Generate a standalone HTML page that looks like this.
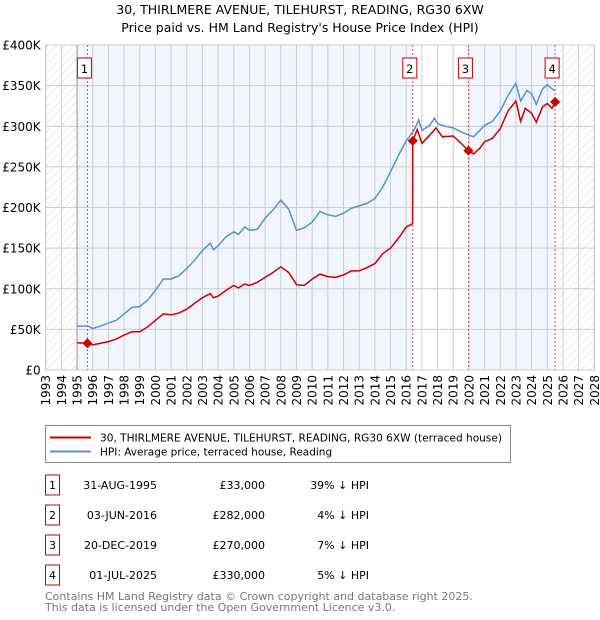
<!DOCTYPE html>
<html><head><meta charset="utf-8"><style>
body{margin:0;background:#fff;font-family:"DejaVu Sans","Liberation Sans",sans-serif;}
#wrap{position:relative;width:600px;height:620px;overflow:hidden;}
svg text{font-family:"DejaVu Sans","Liberation Sans",sans-serif;}
</style></head><body><div id="wrap">
<svg id="chart" width="600" height="620" style="position:absolute;left:0;top:0"></svg>
</div>
<script>
const years=[1993,1994,1995,1996,1997,1998,1999,2000,2001,2002,2003,2004,2005,2006,2007,2008,2009,2010,2011,2012,2013,2014,2015,2016,2017,2018,2019,2020,2021,2022,2023,2024,2025,2026,2027,2028];
const yTicks=[0,50,100,150,200,250,300,350,400];
const yTickLabels=["£0","£50K","£100K","£150K","£200K","£250K","£300K","£350K","£400K"];
const hpiT=[1995,1995.7,1996,1996.5,1997,1997.5,1998,1998.5,1999,1999.5,2000,2000.5,2001,2001.5,2002,2002.5,2003,2003.5,2003.7,2004,2004.5,2005,2005.3,2005.7,2006,2006.5,2007,2007.5,2008,2008.5,2009,2009.5,2010,2010.5,2011,2011.5,2012,2012.5,2013,2013.5,2014,2014.5,2015,2015.5,2016,2016.5,2016.8,2017,2017.5,2017.8,2018,2018.5,2019,2019.5,2020,2020.3,2020.7,2021,2021.5,2022,2022.5,2023,2023.3,2023.7,2024,2024.3,2024.7,2025,2025.3,2025.5];
const hpiV=[54,54,51,54,58,61,69,77,78,86,98,112,112,116,125,135,147,156,148,153,164,170,167,176,172,173,187,197,209,198,172,175,182,195,191,189,193,199,202,205,211,225,244,264,282,295,308,295,301,310,303,300,298,293,289,287,295,301,306,319,338,353,331,344,340,327,346,351,346,344];
const redT=[1995,1995.66,1996,1997,1997.5,1998,1998.5,1999,1999.5,2000,2000.5,2001,2001.5,2002,2002.5,2003,2003.5,2003.7,2004,2004.5,2005,2005.3,2005.7,2006,2006.5,2007,2007.5,2008,2008.5,2009,2009.5,2010,2010.5,2011,2011.5,2012,2012.5,2013,2013.5,2014,2014.5,2015,2015.5,2016,2016.41,2016.42,2016.7,2017,2017.5,2017.9,2018.3,2019,2019.5,2019.97,2020.3,2020.7,2021,2021.5,2022,2022.5,2023,2023.3,2023.6,2024,2024.3,2024.7,2025,2025.3,2025.5];
const redV=[33.5,33,31,35,38,43,47,47,53,61,69,68,70,75,82,89,94,89,91,98,104,101,106,104,108,114,120,127,120,105,104,112,118,115,114,117,122,122,126,131,143,150,162,176,180,282,296,279,289,298,287,288,279,270,266,273,281,285,297,319,331,306,322,316,305,324,328,322,330];
const saleT=[1995.66,2016.42,2019.97,2025.5];
const saleV=[33,282,270,330];
const saleLabels=["1","2","3","4"];
const rowDates=["31-AUG-1995","03-JUN-2016","20-DEC-2019","01-JUL-2025"];
const rowPrices=["£33,000","£282,000","£270,000","£330,000"];
const rowHpi=["39% ↓ HPI","4% ↓ HPI","7% ↓ HPI","5% ↓ HPI"];

const L=45.7,R=594.3,T=45,B=370;
const X=y=>L+(y-1993)*(R-L)/35;
const Y=v=>B-v*(B-T)/400;
const NS="http://www.w3.org/2000/svg";
const svg=document.getElementById('chart');
function mk(tag,attrs,parent){const e=document.createElementNS(NS,tag);for(const k in attrs)e.setAttribute(k,attrs[k]);(parent||svg).appendChild(e);return e;}
const defs=mk('defs',{});
const pat=mk('pattern',{id:'hatch',width:6,height:6,patternUnits:'userSpaceOnUse',patternTransform:'rotate(45)'},defs);
mk('line',{x1:0,y1:0,x2:0,y2:6,stroke:'#cccccc','stroke-width':0.8},pat);

let r=mk('rect',{x:X(1995),y:T,width:X(saleT[1])-X(1995),height:B-T,fill:'#f1f5fd'});

r=mk('rect',{x:X(saleT[2]),y:T,width:X(saleT[3])-X(saleT[2]),height:B-T,fill:'#f1f5fd'});

r=mk('rect',{x:L,y:T,width:X(1995)-L,height:B-T,fill:'url(#hatch)'});

r=mk('rect',{x:X(saleT[3]),y:T,width:R-X(saleT[3]),height:B-T,fill:'url(#hatch)'});


years.forEach(y=>{const l=mk('line',{x1:X(y),x2:X(y),y1:T,y2:B,stroke:'#cccccc','stroke-width':1});

const t=mk('text',{x:0,y:0,transform:`translate(${X(y)+4.5},${B+5}) rotate(-90)`,'text-anchor':'end','font-size':12,fill:'#000'});t.textContent=y;
});
yTicks.forEach((v,i)=>{const l=mk('line',{x1:L,x2:R,y1:Y(v),y2:Y(v),stroke:'#cccccc','stroke-width':1});

const t=mk('text',{x:L-5,y:Y(v)+4.5,'text-anchor':'end','font-size':12,fill:'#000'});t.textContent=yTickLabels[i];
});
let a=mk('line',{x1:X(1995),x2:X(1995),y1:T,y2:B,stroke:'#999','stroke-width':1});

a=mk('rect',{x:L,y:T,width:R-L,height:B-T,fill:'none',stroke:'#cccccc'});


saleT.forEach((s,i)=>{const l=mk('line',{x1:X(s),x2:X(s),y1:T,y2:B,stroke:'#e05050','stroke-width':1,'stroke-dasharray':'2,2'});
});

const p1=mk('path',{d:hpiT.map((t,i)=>(i?'L':'M')+X(t).toFixed(1)+','+Y(hpiV[i]).toFixed(1)).join(''),fill:'none',stroke:'#5b8fd0','stroke-width':1.5});

const p2=mk('path',{d:redT.map((t,i)=>(i?'L':'M')+X(t).toFixed(1)+','+Y(redV[i]).toFixed(1)).join(''),fill:'none',stroke:'#cc0000','stroke-width':1.5});


saleT.forEach((s,i)=>{const cx=X(s),cy=Y(saleV[i]);
const d=mk('path',{d:`M${cx-5},${cy}L${cx},${cy-5}L${cx+5},${cy}L${cx},${cy+5}Z`,fill:'#cc0000'});

const bx=mk('rect',{x:cx-10,y:58,width:14,height:20,fill:'#fff',stroke:'#cc0000','stroke-width':1});

const t=mk('text',{x:cx-3,y:73,'text-anchor':'middle','font-size':11.5,fill:'#000'});t.textContent=saleLabels[i];
});

let tt=mk('text',{x:300,y:14,'text-anchor':'middle','font-size':12.5});tt.textContent='30, THIRLMERE AVENUE, TILEHURST, READING, RG30 6XW';

tt=mk('text',{x:300,y:32,'text-anchor':'middle','font-size':12.5});tt.textContent="Price paid vs. HM Land Registry's House Price Index (HPI)";


const lg=mk('g',{});
mk('rect',{x:45.5,y:425.5,width:465,height:37,fill:'#fff',stroke:'#888'},lg);
let e=mk('line',{x1:50,x2:91,y1:437.5,y2:437.5,stroke:'#cc0000','stroke-width':2},lg);

e=mk('text',{x:100,y:441.5,'font-size':10.5,textLength:402,lengthAdjust:'spacingAndGlyphs'},lg);e.textContent='30, THIRLMERE AVENUE, TILEHURST, READING, RG30 6XW (terraced house)';

e=mk('line',{x1:50,x2:91,y1:451.5,y2:451.5,stroke:'#5b8fd0','stroke-width':2},lg);

e=mk('text',{x:100,y:455.5,'font-size':10.5},lg);e.textContent='HPI: Average price, terraced house, Reading';


const rowY=[485,515,545,575];
rowY.forEach((y,i)=>{
e=mk('rect',{x:45.5,y:y-10,width:14,height:20,fill:'#fff',stroke:'#cc0000'});
e=mk('text',{x:52.5,y:y+4,'text-anchor':'middle','font-size':11});e.textContent=saleLabels[i];
e=mk('text',{x:157,y:y+4,'text-anchor':'end','font-size':11});e.textContent=rowDates[i];
e=mk('text',{x:265,y:y+4,'text-anchor':'end','font-size':11});e.textContent=rowPrices[i];
e=mk('text',{x:369,y:y+4,'text-anchor':'end','font-size':11});e.textContent=rowHpi[i];
});
e=mk('text',{x:45,y:600,'font-size':11,fill:'#777'});e.textContent='Contains HM Land Registry data © Crown copyright and database right 2025.';

e=mk('text',{x:45,y:611,'font-size':11,fill:'#777'});e.textContent='This data is licensed under the Open Government Licence v3.0.';

</script></body></html>
